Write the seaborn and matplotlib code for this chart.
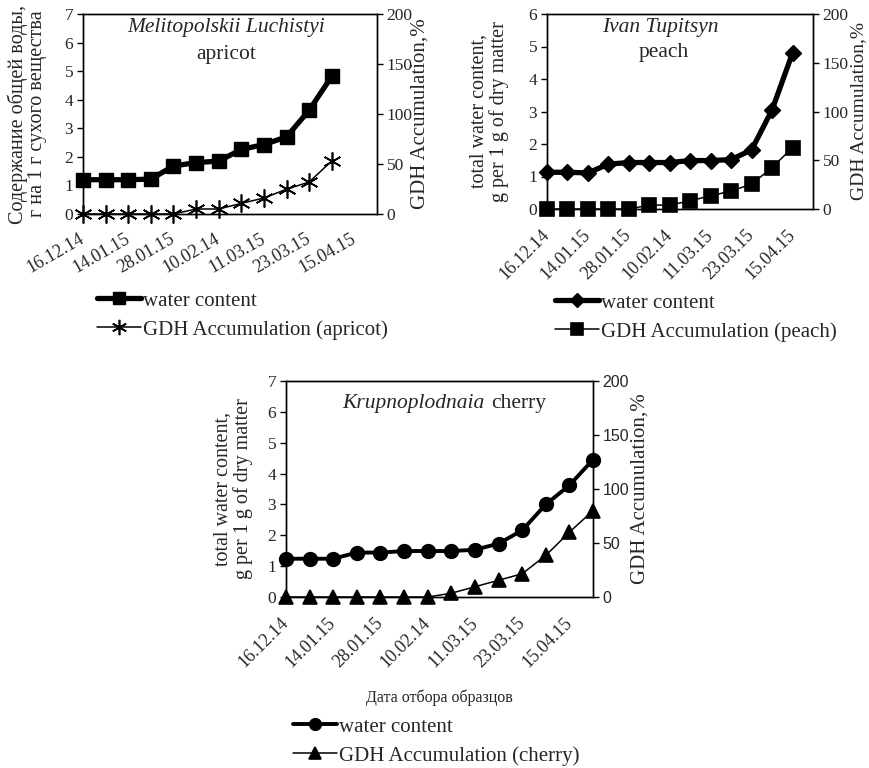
import numpy as np
import pandas as pd
import matplotlib
matplotlib.use('Agg')
import matplotlib.pyplot as plt
import seaborn as sns

tick_labels = ['16.12.14', '14.01.15', '28.01.15', '10.02.14', '11.03.15', '23.03.15', '15.04.15']

apricot_water = [1.2, 1.2, 1.2, 1.22, 1.68, 1.8, 1.85, 2.26, 2.43, 2.7, 3.63, 4.82]
apricot_gdh = [0, 0, 0, 0, 0, 5, 5, 10.6, 16, 24.8, 32, 53]

peach_water = [1.13, 1.13, 1.11, 1.38, 1.43, 1.43, 1.43, 1.49, 1.49, 1.52, 1.82, 3.05, 4.8]
peach_gdh = [0, 0, 0, 0, 0, 4, 4, 8.5, 13.5, 18.5, 25.5, 42.5, 63]

cherry_water = [1.24, 1.24, 1.24, 1.44, 1.44, 1.49, 1.49, 1.49, 1.53, 1.73, 2.16, 3.0, 3.62, 4.45]
cherry_gdh = [0, 0, 0, 0, 0, 0, 0, 3.5, 9.5, 15.5, 21.5, 38.5, 60, 80]

sns.set_theme(style='white')
plt.rcParams['font.family'] = ['Liberation Serif', 'DejaVu Serif']

fig = plt.figure(figsize=(8.7, 7.68), dpi=100)


def panel(rect, water, gdh, ymax, wmarker, gmarker, wms, gms, wlw, label_rot):
    ax = fig.add_axes(rect)
    ax2 = ax.twinx()
    x = np.arange(len(water))
    sns.lineplot(x=x, y=water, ax=ax, color='black', lw=wlw, marker=wmarker,
                 markersize=wms, markeredgecolor='black', markeredgewidth=1,
                 clip_on=False, zorder=5, label='water content')
    xg = np.arange(len(gdh))
    sns.lineplot(x=xg, y=gdh, ax=ax2, color='black', lw=1.1, marker=gmarker,
                 markersize=gms, markeredgecolor='black', markeredgewidth=1.2,
                 clip_on=False, zorder=5, label='gdh')
    ax.set_xlim(0, 13)
    ax.set_ylim(0, ymax)
    ax2.set_ylim(0, 200)
    ax.set_yticks(range(ymax + 1))
    ax2.set_yticks([0, 50, 100, 150, 200])
    ax.set_xticks(range(14))
    labels = []
    for i in range(14):
        labels.append(tick_labels[i // 2] if i % 2 == 0 else '')
    ax.set_xticklabels(labels, rotation=label_rot, ha='right', va='center',
                       rotation_mode='anchor', fontsize=13)
    ax.tick_params(axis='x', direction='in', length=5, width=1, color='black', pad=17)
    ax.tick_params(axis='y', direction='out', length=4, width=1, color='black',
                   labelsize=12.5, pad=3, left=True)
    ax2.tick_params(axis='y', direction='out', length=4, width=1, color='black',
                    labelsize=12.5, pad=3, right=True)
    for a in (ax, ax2):
        for s in a.spines.values():
            s.set_color('black')
            s.set_linewidth(1)
    ax.patch.set_visible(False)
    ax.set_zorder(ax2.get_zorder() + 1)
    return ax, ax2


def finish(ax, ax2, left_label, lx, rx, legend_xy, gdh_label, rsize=15):
    ax.set_ylabel(left_label, fontsize=14.5, va='center', linespacing=1.05)
    ax.yaxis.set_label_coords(lx, 0.5)
    ax2.set_ylabel('GDH Accumulation,%', fontsize=rsize, va='center')
    ax2.yaxis.set_label_coords(rx, 0.5)
    h1, _ = ax.get_legend_handles_labels()
    h2, _ = ax2.get_legend_handles_labels()
    for a in (ax, ax2):
        if a.get_legend() is not None:
            a.get_legend().remove()
    leg = ax.legend(h1 + h2, ['water content', gdh_label], loc='upper left',
                    bbox_to_anchor=legend_xy, bbox_transform=fig.transFigure,
                    frameon=False, fontsize=15, borderpad=0, handlelength=2.1,
                    handletextpad=0.1, labelspacing=0.45, borderaxespad=0,
                    markerscale=0.85)
    return leg


# apricot
ax, ax2 = panel([83 / 870, 1 - 214 / 768, 294 / 870, 200 / 768], apricot_water, apricot_gdh,
                7, 's', (6, 2, 0), 9.5, 13, 3.8, 30)
ax.text(0.486, 0.93, 'Melitopolskii Luchistyi', transform=ax.transAxes, ha='center',
        va='center', fontsize=15.5, style='italic')
ax.text(0.486, 0.795, 'apricot', transform=ax.transAxes, ha='center', va='center', fontsize=15.5)
finish(ax, ax2, 'Содержание общей воды,\nг на 1 г сухого вещества', -0.19, 1.146,
       (97 / 870, 1 - 291 / 768), 'GDH Accumulation (apricot)')

# peach
ax, ax2 = panel([547 / 870, 1 - 209 / 768, 266 / 870, 195 / 768], peach_water, peach_gdh,
                6, 'D', 's', 8.5, 9.5, 3.8, 45)
ax.text(0.425, 0.933, 'Ivan Tupitsyn', transform=ax.transAxes, ha='center',
        va='center', fontsize=15.5, style='italic')
ax.text(0.44, 0.8, 'peach', transform=ax.transAxes, ha='center', va='center', fontsize=15.5)
finish(ax, ax2, 'total water content,\ng per 1 g of dry matter', -0.218, 1.172,
       (555 / 870, 1 - 293 / 768), 'GDH Accumulation (peach)', rsize=14)

# cherry
ax, ax2 = panel([286 / 870, 1 - 597 / 768, 307 / 870, 216 / 768], cherry_water, cherry_gdh,
                7, 'o', '^', 10, 10, 2.8, 45)
ax.text(0.648, 0.898, 'Krupnoplodnaia', transform=ax.transAxes, ha='right',
        va='center', fontsize=15.5, style='italic')
ax.text(0.668, 0.898, 'cherry', transform=ax.transAxes, ha='left', va='center', fontsize=15.5)
for t in ax2.get_yticklabels():
    t.set_family('Liberation Sans')
    t.set_fontsize(11.5)
ax.set_xlabel('Дата отбора образцов', fontsize=11.5, labelpad=13)
finish(ax, ax2, 'total water content,\ng per 1 g of dry matter', -0.171, 1.153,
       (293 / 870, 1 - 717 / 768), 'GDH Accumulation (cherry)')

fig.savefig('out.png', dpi=100)
